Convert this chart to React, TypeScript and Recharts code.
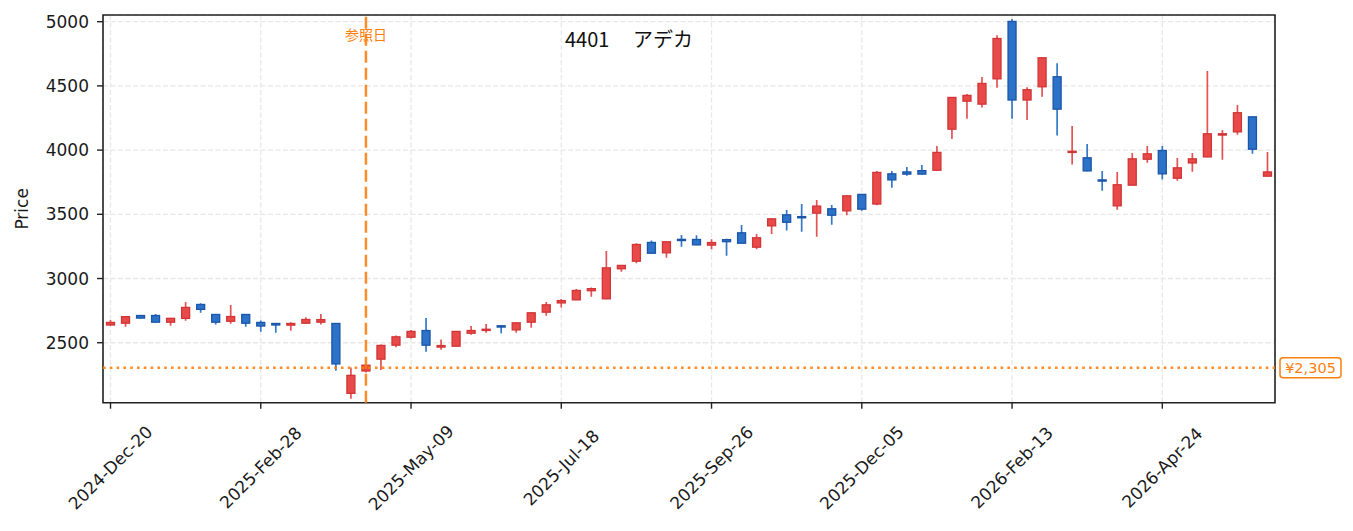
import { Bar, CartesianGrid, ComposedChart, ReferenceArea, ReferenceLine, XAxis, YAxis } from "recharts";

// weekly candles, 4401 アデカ
const OPEN = [
  2638, 2652, 2712, 2712, 2660, 2690, 2798, 2720, 2667, 2720, 2658, 2650, 2637, 2652, 2660, 2650,
  2106, 2280, 2372, 2481, 2543, 2595, 2466, 2473, 2574, 2598, 2632, 2600, 2660, 2738, 2810, 2834,
  2905, 2842, 3076, 3135, 3281, 3200, 3305, 3304, 3260, 3303, 3356, 3244, 3410, 3496, 3482, 3509,
  3543, 3527, 3655, 3580, 3815, 3830, 3840, 3843, 4163, 4381, 4358, 4555, 5002, 4390, 4493, 4571,
  3985, 3940, 3768, 3566, 3727, 3929, 3997, 3781, 3900, 3947, 4117, 4142, 4259, 3797,
];
const HIGH = [
  2677, 2706, 2714, 2724, 2692, 2817, 2807, 2722, 2794, 2722, 2674, 2651, 2660, 2698, 2724, 2652,
  2308, 2335, 2487, 2557, 2599, 2692, 2526, 2590, 2630, 2646, 2636, 2657, 2735, 2817, 2840, 2918,
  2931, 3214, 3104, 3274, 3297, 3288, 3339, 3336, 3305, 3310, 3417, 3347, 3467, 3533, 3580, 3611,
  3572, 3646, 3657, 3837, 3837, 3868, 3884, 4032, 4412, 4437, 4569, 4894, 5021, 4489, 4721, 4676,
  4188, 4048, 3837, 3829, 3977, 4032, 4032, 3938, 3977, 4616, 4157, 4351, 4261, 3985,
];
const LOW = [
  2632, 2625, 2689, 2657, 2633, 2672, 2734, 2641, 2648, 2625, 2586, 2578, 2594, 2650, 2641, 2282,
  2064, 2268, 2287, 2464, 2532, 2430, 2446, 2470, 2563, 2578, 2573, 2578, 2617, 2711, 2775, 2830,
  2859, 2838, 3053, 3118, 3195, 3162, 3248, 3260, 3227, 3178, 3273, 3227, 3347, 3373, 3365, 3326,
  3419, 3492, 3528, 3570, 3707, 3801, 3810, 3840, 4087, 4245, 4331, 4486, 4245, 4234, 4416, 4113,
  3887, 3836, 3684, 3536, 3725, 3902, 3772, 3762, 3832, 3945, 3925, 4120, 3972, 3795,
];
const CLOSE = [
  2658, 2703, 2692, 2660, 2690, 2775, 2760, 2660, 2704, 2652, 2630, 2638, 2650, 2681, 2680, 2335,
  2246, 2325, 2479, 2546, 2588, 2481, 2478, 2588, 2595, 2605, 2622, 2655, 2733, 2795, 2828, 2907,
  2921, 3083, 3102, 3265, 3197, 3286, 3298, 3262, 3280, 3287, 3275, 3317, 3465, 3438, 3476, 3564,
  3493, 3644, 3540, 3826, 3768, 3813, 3813, 3982, 4410, 4426, 4519, 4869, 4390, 4470, 4719, 4319,
  3991, 3838, 3762, 3730, 3932, 3971, 3815, 3862, 3932, 4127, 4127, 4291, 4007, 3830,
];

const TICK_DATES = [
  "2024-Dec-20",
  "2025-Feb-28",
  "2025-May-09",
  "2025-Jul-18",
  "2025-Sep-26",
  "2025-Dec-05",
  "2026-Feb-13",
  "2026-Apr-24",
];
const PRICE_TICKS = [2500, 3000, 3500, 4000, 4500, 5000];
const REF_DATE = "2025-Apr-18";
const REF_PRICE = 2305;

const Y_MIN = 2033;
const Y_MAX = 5052;

const MONTHS = ["Jan", "Feb", "Mar", "Apr", "May", "Jun", "Jul", "Aug", "Sep", "Oct", "Nov", "Dec"];
const START = Date.UTC(2024, 11, 20);
const WEEK_MS = 7 * 24 * 3600 * 1000;

function formatDate(ms: number): string {
  const d = new Date(ms);
  const dd = String(d.getUTCDate()).padStart(2, "0");
  return `${d.getUTCFullYear()}-${MONTHS[d.getUTCMonth()]}-${dd}`;
}

const DATES = OPEN.map((_, i) => formatDate(START + i * WEEK_MS));

const rows = DATES.map((date, i) => ({
  date,
  open: OPEN[i],
  high: HIGH[i],
  low: LOW[i],
  close: CLOSE[i],
}));

const ORANGE = "#ff7f0e";
const TICK_FONT = "'DejaVu Sans', sans-serif";
const CJK_FONT = "'Noto Sans CJK JP', sans-serif";

function Candle(props: any) {
  const { x, y, width, height, payload } = props;
  if (!payload) return null;
  const { open, close, high, low } = payload;
  const up = close >= open;
  const top = Math.min(y, y + height);
  const h = Math.abs(height);
  const k = h / (high - low || 1);
  const yOf = (v: number) => top + (high - v) * k;
  const cx = x + width / 2;
  const bodyTop = yOf(Math.max(open, close));
  const bodyBot = yOf(Math.min(open, close));
  const bodyW = 8;
  return (
    <g>
      <line
        x1={cx}
        x2={cx}
        y1={yOf(high)}
        y2={yOf(low)}
        stroke={up ? "#e35353" : "#3478c8"}
        strokeWidth={1.7}
      />
      <rect
        x={cx - bodyW / 2}
        y={bodyTop}
        width={bodyW}
        height={Math.max(bodyBot - bodyTop, 1.2)}
        fill={up ? "#e84a4a" : "#2b72c8"}
        stroke={up ? "#d23535" : "#1b56a8"}
        strokeWidth={1.3}
      />
    </g>
  );
}

function DateTick(props: any) {
  const { x, y, payload } = props;
  const cy = y + 57;
  return (
    <text
      x={x}
      y={cy}
      textAnchor="middle"
      dominantBaseline="central"
      transform={`rotate(-45 ${x} ${cy})`}
      fontFamily={TICK_FONT}
      fontSize={17}
      fill="#1a1a1a"
    >
      {payload.value}
    </text>
  );
}

function PriceTag(props: any) {
  const vb = props.viewBox;
  if (!vb) return null;
  const left = vb.x + vb.width + 5;
  const text = `¥${REF_PRICE.toLocaleString("en-US")}`;
  return (
    <g>
      <rect x={left} y={vb.y - 10} width={61} height={20} rx={3} fill="#fff" stroke={ORANGE} strokeWidth={1.5} />
      <text
        x={left + 30.5}
        y={vb.y}
        textAnchor="middle"
        dominantBaseline="central"
        fontFamily={TICK_FONT}
        fontSize={14.5}
        fill={ORANGE}
      >
        {text}
      </text>
    </g>
  );
}

function RefDateLabel(props: any) {
  const vb = props.viewBox;
  if (!vb) return null;
  return (
    <text
      x={vb.x}
      y={vb.y + 19}
      textAnchor="middle"
      dominantBaseline="central"
      fontFamily={CJK_FONT}
      fontSize={14}
      fill={ORANGE}
    >
      参照日
    </text>
  );
}

function PriceLabel(props: any) {
  const vb = props.viewBox;
  if (!vb) return null;
  const cx = vb.x + 22;
  const cy = vb.y + vb.height / 2;
  return (
    <text
      x={cx}
      y={cy}
      textAnchor="middle"
      dominantBaseline="central"
      transform={`rotate(-90 ${cx} ${cy})`}
      fontFamily={TICK_FONT}
      fontSize={17}
      fill="#1a1a1a"
    >
      Price
    </text>
  );
}

export default function App() {
  return (
    <div style={{ position: "absolute", left: 0, top: 0, width: 1353, height: 531, background: "#fff" }}>
      <ComposedChart width={1353} height={531} data={rows} margin={{ top: 15, right: 78, bottom: 0, left: 0 }}>
        <CartesianGrid stroke="#e8e8e8" strokeWidth={1.3} strokeDasharray="5 2.5" />
        <XAxis
          dataKey="date"
          type="category"
          ticks={TICK_DATES}
          interval={0}
          height={128.3}
          axisLine={false}
          tickLine={{ stroke: "#222", strokeWidth: 1.4 }}
          tickSize={6}
          tick={<DateTick />}
        />
        <YAxis
          type="number"
          domain={[Y_MIN, Y_MAX]}
          allowDataOverflow
          ticks={PRICE_TICKS}
          width={103}
          axisLine={false}
          tickLine={{ stroke: "#222", strokeWidth: 1.4 }}
          tickSize={6}
          tickMargin={8}
          tick={{ fontFamily: TICK_FONT, fontSize: 17, fill: "#1a1a1a" }}
          label={<PriceLabel />}
        />
        <Bar
          dataKey={(d: any) => [d.low, d.high]}
          shape={<Candle />}
          isAnimationActive={false}
        />
        <ReferenceLine
          y={REF_PRICE}
          stroke={ORANGE}
          strokeOpacity={0.9}
          strokeWidth={2.4}
          strokeDasharray="2.6 4.2"
          label={<PriceTag />}
        />
        <ReferenceLine
          x={REF_DATE}
          stroke={ORANGE}
          strokeOpacity={0.9}
          strokeWidth={2.5}
          strokeDasharray="12 5"
          label={<RefDateLabel />}
        />
        <ReferenceArea y1={Y_MIN} y2={Y_MAX} fill="none" stroke="#222" strokeWidth={1.6} ifOverflow="visible" />
      </ComposedChart>
      <svg width={1353} height={531} style={{ position: "absolute", left: 0, top: 0, pointerEvents: "none" }}>
        <text y={47.3} fontFamily={CJK_FONT} fontSize={20} fill="#111">
          <tspan x={565}>4401</tspan>
          <tspan x={633}>アデカ</tspan>
        </text>
      </svg>
    </div>
  );
}
